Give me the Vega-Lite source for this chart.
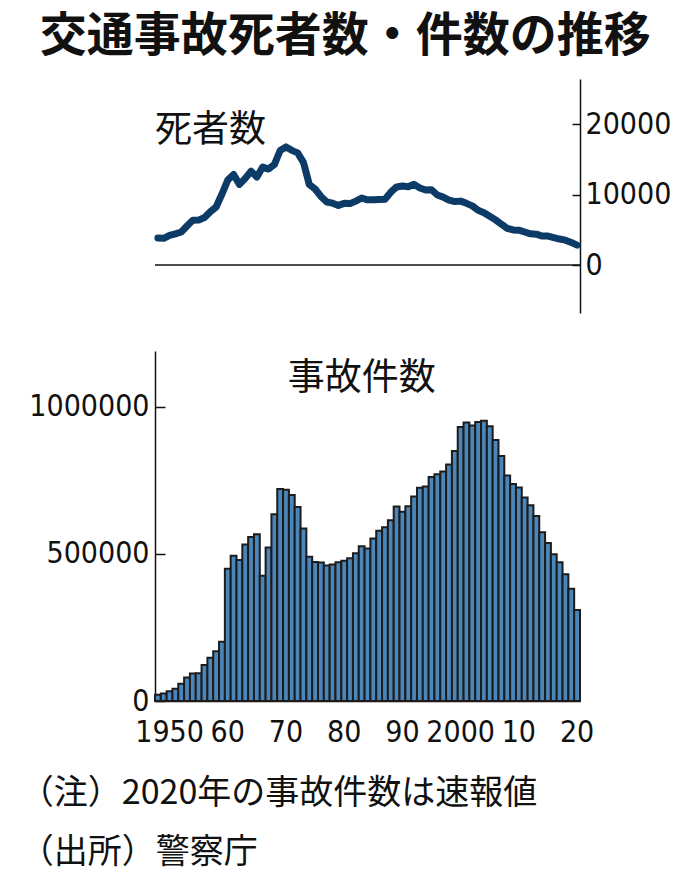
{
  "$schema": "https://vega.github.io/schema/vega-lite/v6.json",
  "padding": {"left": 19, "top": 13, "right": 5, "bottom": 5},
  "background": "white",
  "title": {
    "text": "交通事故死者数・件数の推移",
    "font": "Noto Sans CJK JP",
    "fontSize": 47,
    "fontWeight": "bold",
    "color": "#111",
    "anchor": "middle",
    "frame": "bounds",
    "offset": 18
  },
  "datasets": {
    "traffic": [
      {"year": 1948, "deaths": 3848, "accidents": 21341},
      {"year": 1949, "deaths": 3790, "accidents": 25113},
      {"year": 1950, "deaths": 4202, "accidents": 33212},
      {"year": 1951, "deaths": 4429, "accidents": 41423},
      {"year": 1952, "deaths": 4696, "accidents": 58487},
      {"year": 1953, "deaths": 5544, "accidents": 80019},
      {"year": 1954, "deaths": 6374, "accidents": 93869},
      {"year": 1955, "deaths": 6379, "accidents": 93981},
      {"year": 1956, "deaths": 6751, "accidents": 122691},
      {"year": 1957, "deaths": 7575, "accidents": 146833},
      {"year": 1958, "deaths": 8248, "accidents": 168799},
      {"year": 1959, "deaths": 10079, "accidents": 201292},
      {"year": 1960, "deaths": 12055, "accidents": 449917},
      {"year": 1961, "deaths": 12865, "accidents": 493693},
      {"year": 1962, "deaths": 11445, "accidents": 479825},
      {"year": 1963, "deaths": 12301, "accidents": 531966},
      {"year": 1964, "deaths": 13318, "accidents": 557183},
      {"year": 1965, "deaths": 12484, "accidents": 567286},
      {"year": 1966, "deaths": 13904, "accidents": 425944},
      {"year": 1967, "deaths": 13618, "accidents": 521481},
      {"year": 1968, "deaths": 14256, "accidents": 635056},
      {"year": 1969, "deaths": 16257, "accidents": 720880},
      {"year": 1970, "deaths": 16765, "accidents": 718080},
      {"year": 1971, "deaths": 16278, "accidents": 700290},
      {"year": 1972, "deaths": 15918, "accidents": 659283},
      {"year": 1973, "deaths": 14574, "accidents": 586713},
      {"year": 1974, "deaths": 11432, "accidents": 490452},
      {"year": 1975, "deaths": 10792, "accidents": 472938},
      {"year": 1976, "deaths": 9734, "accidents": 471041},
      {"year": 1977, "deaths": 8945, "accidents": 460649},
      {"year": 1978, "deaths": 8783, "accidents": 464037},
      {"year": 1979, "deaths": 8466, "accidents": 471573},
      {"year": 1980, "deaths": 8760, "accidents": 476677},
      {"year": 1981, "deaths": 8719, "accidents": 485578},
      {"year": 1982, "deaths": 9073, "accidents": 502261},
      {"year": 1983, "deaths": 9520, "accidents": 526362},
      {"year": 1984, "deaths": 9262, "accidents": 518642},
      {"year": 1985, "deaths": 9261, "accidents": 552788},
      {"year": 1986, "deaths": 9317, "accidents": 579190},
      {"year": 1987, "deaths": 9347, "accidents": 590723},
      {"year": 1988, "deaths": 10344, "accidents": 614481},
      {"year": 1989, "deaths": 11086, "accidents": 661363},
      {"year": 1990, "deaths": 11227, "accidents": 643097},
      {"year": 1991, "deaths": 11109, "accidents": 662392},
      {"year": 1992, "deaths": 11452, "accidents": 695345},
      {"year": 1993, "deaths": 10942, "accidents": 724675},
      {"year": 1994, "deaths": 10649, "accidents": 729461},
      {"year": 1995, "deaths": 10684, "accidents": 761794},
      {"year": 1996, "deaths": 9943, "accidents": 771085},
      {"year": 1997, "deaths": 9642, "accidents": 780399},
      {"year": 1998, "deaths": 9214, "accidents": 803882},
      {"year": 1999, "deaths": 9012, "accidents": 850371},
      {"year": 2000, "deaths": 9073, "accidents": 931950},
      {"year": 2001, "deaths": 8757, "accidents": 947253},
      {"year": 2002, "deaths": 8396, "accidents": 936950},
      {"year": 2003, "deaths": 7768, "accidents": 948281},
      {"year": 2004, "deaths": 7436, "accidents": 952720},
      {"year": 2005, "deaths": 6937, "accidents": 934346},
      {"year": 2006, "deaths": 6415, "accidents": 887267},
      {"year": 2007, "deaths": 5796, "accidents": 832704},
      {"year": 2008, "deaths": 5209, "accidents": 766394},
      {"year": 2009, "deaths": 4979, "accidents": 737637},
      {"year": 2010, "deaths": 4948, "accidents": 725924},
      {"year": 2011, "deaths": 4691, "accidents": 692084},
      {"year": 2012, "deaths": 4438, "accidents": 665157},
      {"year": 2013, "deaths": 4388, "accidents": 629033},
      {"year": 2014, "deaths": 4113, "accidents": 573842},
      {"year": 2015, "deaths": 4117, "accidents": 536899},
      {"year": 2016, "deaths": 3904, "accidents": 499201},
      {"year": 2017, "deaths": 3694, "accidents": 472165},
      {"year": 2018, "deaths": 3532, "accidents": 430601},
      {"year": 2019, "deaths": 3215, "accidents": 381237},
      {"year": 2020, "deaths": 2839, "accidents": 309000}
    ]
  },
  "spacing": 38,
  "vconcat": [
    {
      "width": 425,
      "height": 234,
      "layer": [
        {
          "data": {"name": "traffic"},
          "mark": {"type": "line", "color": "#0c3b67", "strokeWidth": 7, "strokeCap": "round", "strokeJoin": "round"},
          "encoding": {
            "x": {"field": "year", "type": "ordinal", "axis": null},
            "y": {
              "field": "deaths",
              "type": "quantitative",
              "title": null,
              "scale": {"domain": [-6800, 26400], "nice": false, "zero": false},
              "axis": {
                "orient": "right",
                "values": [0, 10000, 20000],
                "format": "d",
                "grid": false,
                "tickSize": -8,
                "labelPadding": 13,
                "labelFont": "DejaVu Sans Condensed, Liberation Sans, sans-serif",
                "labelFontSize": 30,
                "labelColor": "#111",
                "domainColor": "#111",
                "domainWidth": 1.5,
                "tickColor": "#111",
                "tickWidth": 1.5
              }
            }
          }
        },
        {
          "data": {"values": [{}]},
          "mark": {"type": "rule", "color": "#111", "strokeWidth": 1.5},
          "encoding": {"y": {"datum": 0, "title": null}}
        },
        {
          "data": {"values": [{"label": "死者数"}]},
          "mark": {"type": "text", "font": "Noto Sans CJK JP", "fontSize": 37, "color": "#111", "align": "left", "baseline": "middle", "dx": -3},
          "encoding": {
            "x": {"datum": 1948, "type": "ordinal"},
            "y": {"datum": 19000, "title": null},
            "text": {"field": "label"}
          }
        }
      ]
    },
    {
      "width": 425,
      "height": 350,
      "title": {
        "text": ["（注）2020年の事故件数は速報値", "（出所）警察庁"],
        "orient": "bottom",
        "anchor": "start",
        "frame": "bounds",
        "font": "Noto Sans CJK JP",
        "fontSize": 34,
        "fontWeight": "normal",
        "color": "#111",
        "lineHeight": 59,
        "offset": 30,
        "dx": -9
      },
      "layer": [
        {
          "data": {"name": "traffic"},
          "mark": {"type": "bar", "fill": "#4a86b9", "stroke": "#1c1c1c", "strokeWidth": 2},
          "encoding": {
            "x": {
              "field": "year",
              "type": "ordinal",
              "title": null,
              "scale": {"paddingInner": 0, "paddingOuter": 0},
              "axis": {
                "values": [1950, 1960, 1970, 1980, 1990, 2000, 2010, 2020],
                "labelExpr": "datum.value == 1950 || datum.value == 2000 ? toString(datum.value) : substring(toString(datum.value), 2, 4)",
                "labelAngle": 0,
                "ticks": false,
                "labelPadding": 16,
                "labelFont": "DejaVu Sans Condensed, Liberation Sans, sans-serif",
                "labelFontSize": 30,
                "labelColor": "#111",
                "domainColor": "#111",
                "domainWidth": 1.5
              }
            },
            "y": {
              "field": "accidents",
              "type": "quantitative",
              "title": null,
              "scale": {"domain": [0, 1190000], "nice": false},
              "axis": {
                "values": [0, 500000, 1000000],
                "format": "d",
                "grid": false,
                "tickSize": -10,
                "labelPadding": 16,
                "labelFont": "DejaVu Sans Condensed, Liberation Sans, sans-serif",
                "labelFontSize": 30,
                "labelColor": "#111",
                "domainColor": "#111",
                "domainWidth": 1.5,
                "tickColor": "#111",
                "tickWidth": 1.5
              }
            }
          }
        },
        {
          "data": {"values": [{"label": "事故件数"}]},
          "mark": {"type": "text", "font": "Noto Sans CJK JP", "fontSize": 37, "color": "#111", "align": "center", "baseline": "middle"},
          "encoding": {
            "x": {"datum": 1983, "type": "ordinal"},
            "y": {"datum": 1095000, "title": null},
            "text": {"field": "label"}
          }
        }
      ]
    }
  ],
  "config": {
    "view": {"stroke": null},
    "axis": {"labelFlush": false, "labelOverlap": false}
  }
}
